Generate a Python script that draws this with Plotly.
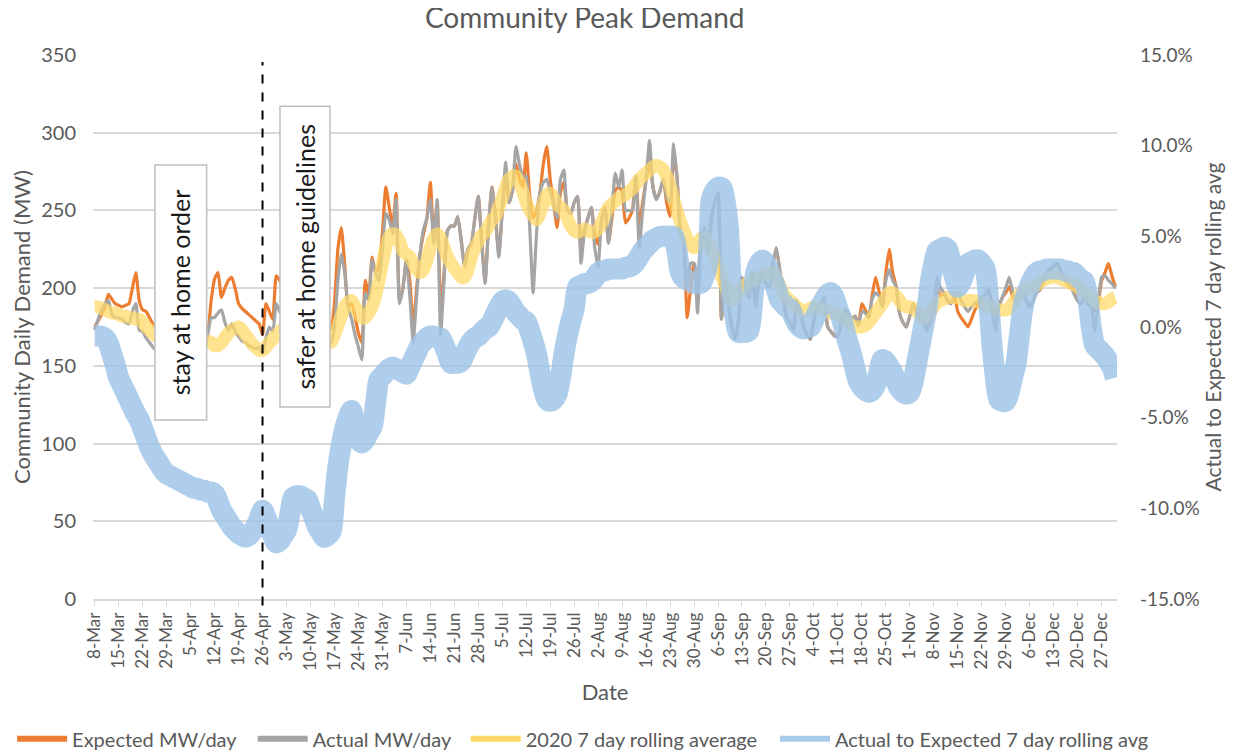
import pandas as pd
import plotly.graph_objects as go
from plotly.subplots import make_subplots

# one value per day, 8-Mar-2020 .. 31-Dec-2020
dates = pd.date_range("2020-03-08", "2020-12-31", freq="D")

expected_mw = [
    175, 179, 183, 188, 196, 193, 190,
    189, 188, 189, 190, 200, 210, 192,
    186, 185, 181, 177, 174, 172, 170,
    168, 170, 172, 170, 168, 172, 174,
    172, 170, 174, 176, 172, 173, 192,
    206, 210, 194, 200, 205, 207, 200,
    190, 187, 185, 183, 181, 179, 177,
    170, 190, 185, 180, 208, 205, 200,
    195, 190, 188, 192, 190, 186, 184,
    182, 180, 178, 182, 180, 176, 174,
    190, 225, 239, 215, 188, 190, 182,
    171, 165, 205, 195, 220, 210, 214,
    235, 265, 252, 240, 261, 192, 200,
    218, 205, 175, 200, 222, 235, 245,
    268, 230, 255, 186, 210, 237, 240,
    240, 246, 231, 214, 225, 229, 245,
    259, 230, 205, 240, 265, 246, 222,
    250, 275, 255, 263, 280, 270, 265,
    287, 260, 245, 250, 261, 280, 291,
    270, 255, 239, 262, 268, 250, 248,
    255, 259, 222, 237, 245, 252, 235,
    228, 244, 252, 229, 245, 263, 265,
    262, 242, 245, 250, 272, 240, 255,
    270, 283, 265, 257, 262, 270, 255,
    246, 285, 272, 237, 229, 181, 200,
    216, 205, 230, 239, 222, 244, 255,
    261, 180, 205, 190, 175, 167, 180,
    207, 200, 194, 210, 188, 205, 210,
    203, 201, 215, 226, 212, 195, 181,
    178, 173, 192, 185, 175, 170, 167,
    180, 188, 190, 194, 175, 172, 170,
    169, 178, 186, 184, 180, 182, 176,
    190, 186, 181, 195, 207, 198, 188,
    210, 225, 210, 201, 184, 178, 175,
    182, 190, 184, 180, 178, 173, 178,
    184, 200, 195, 197, 192, 190, 195,
    185, 181, 178, 175, 180, 186, 190,
    194, 196, 199, 190, 182, 188, 194,
    197, 201, 195, 190, 194, 197, 192,
    188, 192, 197, 199, 204, 210, 212,
    214, 216, 210, 207, 203, 201, 198,
    192, 190, 194, 190, 188, 185, 190,
    205, 210, 216, 208, 201,
]

actual_mw = [
    173, 180, 186, 190, 192, 183, 181,
    181, 180, 178, 177, 185, 190, 173,
    172, 168, 165, 162, 160, 162, 160,
    158, 160, 162, 160, 158, 162, 163,
    160, 162, 163, 161, 160, 170, 181,
    181, 184, 186, 178, 173, 177, 172,
    169, 166, 165, 163, 162, 161, 162,
    158, 168, 175, 172, 190, 185, 182,
    178, 175, 172, 176, 174, 170, 168,
    170, 168, 165, 170, 168, 163, 165,
    175, 205, 222, 210, 188, 180, 170,
    162, 154, 197, 192, 218, 210, 205,
    225, 248, 244, 235, 257, 190, 200,
    218, 195, 165, 195, 222, 238, 245,
    257, 229, 257, 170, 205, 237, 240,
    240, 246, 231, 214, 225, 229, 245,
    259, 228, 203, 240, 265, 246, 220,
    250, 281, 255, 263, 291, 280, 272,
    272, 240, 197, 235, 261, 268, 270,
    262, 255, 245, 270, 276, 250, 248,
    255, 259, 216, 237, 245, 252, 226,
    214, 244, 252, 229, 250, 274, 265,
    276, 250, 250, 250, 272, 226, 250,
    270, 295, 265, 257, 262, 270, 258,
    255, 293, 272, 237, 229, 201, 216,
    216, 184, 225, 239, 222, 244, 255,
    261, 180, 205, 190, 175, 167, 180,
    207, 200, 194, 210, 188, 205, 210,
    203, 201, 215, 226, 212, 195, 181,
    178, 173, 192, 185, 175, 170, 167,
    180, 188, 190, 194, 175, 172, 169,
    169, 178, 186, 184, 180, 182, 176,
    185, 184, 181, 193, 197, 195, 188,
    205, 212, 205, 201, 184, 178, 175,
    182, 190, 184, 180, 178, 173, 180,
    190, 207, 200, 197, 192, 190, 195,
    197, 192, 188, 185, 188, 190, 192,
    194, 196, 199, 185, 173, 188, 194,
    200, 207, 198, 190, 194, 197, 192,
    188, 192, 197, 199, 205, 210, 213,
    214, 216, 212, 207, 203, 201, 196,
    192, 190, 194, 190, 188, 173, 190,
    207, 208, 205, 203, 200,
]

rolling_2020 = [
    188, 188, 187, 186, 185, 184, 184,
    183, 182, 182, 181, 181, 180, 180,
    178, 175, 173, 171, 169, 168, 167,
    166, 165, 165, 164, 164, 164, 164,
    164, 164, 164, 165, 165, 166, 165,
    163, 163, 165, 168, 171, 173, 174,
    175, 173, 170, 167, 164, 162, 160,
    160, 162, 165, 167, 170, 172, 174,
    175, 176, 176, 175, 174, 173, 172,
    171, 170, 169, 168, 167, 166, 165,
    170, 176, 182, 188, 191, 192, 188,
    184, 181, 181, 184, 188, 195, 205,
    216, 226, 233, 235, 234, 230, 224,
    222, 220, 216, 212, 210, 212, 218,
    226, 232, 235, 232, 226, 220, 216,
    213, 210, 207, 207, 212, 220, 226,
    230, 234, 236, 240, 244, 246, 252,
    258, 265, 270, 272, 272, 268, 262,
    255, 250, 247, 244, 248, 254, 260,
    261, 258, 254, 252, 250, 245, 240,
    237, 236, 237, 238, 237, 236, 236,
    238, 242, 247, 252, 254, 256, 258,
    259, 260, 262, 264, 267, 270, 272,
    274, 276, 278, 279, 278, 276, 272,
    266, 258, 250, 243, 237, 232, 228,
    226, 228, 232, 233, 230, 226, 220,
    214, 208, 202, 196, 192, 194, 198,
    200, 202, 204, 205, 206, 207, 208,
    209, 210, 210, 207, 202, 197, 194,
    192, 190, 188, 186, 185, 186, 187,
    188, 188, 187, 186, 185, 184, 184,
    183, 182, 180, 178, 176, 175, 175,
    175, 176, 178, 181, 184, 187, 190,
    194, 197, 197, 195, 192, 189, 188,
    188, 187, 185, 183, 181, 182, 185,
    188, 191, 192, 193, 194, 194, 194,
    194, 193, 192, 192, 192, 192, 191,
    190, 189, 188, 188, 187, 186, 186,
    186, 187, 190, 193, 196, 198, 200,
    200, 201, 202, 204, 205, 206, 207,
    207, 207, 206, 205, 204, 203, 202,
    201, 199, 197, 195, 194, 192, 191,
    190, 190, 191, 193, 194,
]

# actual vs expected, 7 day rolling, in percent
actual_vs_expected_pct = [
    -0.5, -0.5, -0.5, -0.6, -0.9, -1.5, -2.1,
    -2.8, -3.2, -3.6, -4.0, -4.4, -4.8, -5.1,
    -5.6, -6.1, -6.6, -7.0, -7.3, -7.6, -7.9,
    -8.1, -8.2, -8.3, -8.4, -8.5, -8.6, -8.7,
    -8.8, -8.9, -8.9, -9.0, -9.0, -9.1, -9.1,
    -9.2, -9.6, -10.1, -10.4, -10.7, -11.0, -11.2,
    -11.4, -11.5, -11.6, -11.5, -11.3, -11.0, -10.6,
    -10.1, -10.5, -11.0, -11.5, -11.9, -11.8, -11.5,
    -11.2, -10.3, -9.4, -9.3, -9.3, -9.4, -9.5,
    -10.0, -10.5, -11.0, -11.3, -11.6, -11.5, -11.3,
    -9.5, -7.7, -6.5, -5.6, -5.0, -4.6, -5.5,
    -6.2, -6.4, -6.2, -5.8, -5.5, -4.2, -2.9,
    -2.7, -2.5, -2.3, -2.2, -2.3, -2.4, -2.5,
    -2.6, -2.2, -1.8, -1.4, -1.0, -0.8, -0.6,
    -0.5, -0.5, -0.6, -0.6, -1.0, -1.5, -2.0,
    -2.0, -2.0, -1.9, -1.5, -1.1, -0.8, -0.6,
    -0.5, -0.3, -0.1, 0.0, 0.3, 0.7, 1.1,
    1.4, 1.5, 1.4, 1.1, 0.8, 0.6, 0.4,
    0.3, -0.2, -0.8, -1.5, -2.5, -3.4, -4.0,
    -4.1, -4.0, -3.7, -2.8, -1.5, -0.5, 0.3,
    1.0, 2.2, 2.3, 2.4, 2.4, 2.5, 2.7,
    3.0, 3.1, 3.1, 3.2, 3.2, 3.2, 3.2,
    3.2, 3.3, 3.3, 3.4, 3.6, 3.9, 4.2,
    4.4, 4.6, 4.8, 4.9, 5.0, 5.0, 5.0,
    5.0, 5.0, 4.2, 3.0, 2.7, 2.6, 2.5,
    2.4, 2.4, 2.4, 2.8, 3.5, 7.0, 7.5,
    7.7, 7.7, 7.0, 5.5, 2.0, 0.5, -0.3,
    -0.3, -0.3, -0.2, 1.2, 3.0, 3.5, 3.7,
    3.5, 3.0, 2.6, 2.1, 1.5, 1.3, 1.1,
    1.0, 0.6, 0.2, 0.0, -0.1, 0.0, 0.0,
    0.4, 0.8, 1.2, 1.5, 1.8, 1.9, 1.6,
    1.0, 0.5, -0.2, -0.9, -1.5, -2.3, -3.0,
    -3.3, -3.5, -3.6, -3.5, -3.2, -2.5, -1.8,
    -1.9, -2.2, -2.5, -3.0, -3.4, -3.6, -3.7,
    -3.6, -3.0, -2.0, -1.0, 0.0, 1.0, 2.5,
    3.5, 4.2, 4.3, 4.4, 4.3, 3.6, 2.8,
    2.2, 2.5, 3.0, 3.5, 3.6, 3.7, 3.7,
    3.5, 3.2, 1.5, -1.0, -2.8, -4.0, -4.1,
    -4.1, -3.6, -2.8, -2.0, -0.5, 1.0, 1.8,
    2.3, 2.7, 3.0, 3.1, 3.1, 3.2, 3.2,
    3.2, 3.2, 3.2, 3.1, 3.1, 3.0, 3.0,
    2.8, 2.6, 2.5, 1.5, 0.0, -1.0, -1.2,
    -1.4, -1.6, -1.9, -2.2, -2.8,
]

pct_ticks = [-15, -10, -5, 0, 5, 10, 15]

FONT = "Lato, Carlito, Calibri, sans-serif"
GREY_TXT = "#595959"
GRID = "#D9D9D9"

ORANGE = "#ED7D31"
GREY = "#A5A5A5"
YELLOW = "rgba(255,217,102,0.74)"
BLUE = "rgba(157,195,230,0.82)"

fig = make_subplots(specs=[[{"secondary_y": True}]])

fig.add_trace(go.Scatter(x=dates, y=expected_mw, mode="lines", showlegend=False,
                         line=dict(color=ORANGE, width=3.2, shape="spline", smoothing=0.5)))
fig.add_trace(go.Scatter(x=dates, y=actual_mw, mode="lines", showlegend=False,
                         line=dict(color=GREY, width=3.2, shape="spline", smoothing=0.5)))
fig.add_trace(go.Scatter(x=dates, y=rolling_2020, mode="lines", showlegend=False,
                         line=dict(color=YELLOW, width=13, shape="spline", smoothing=0.8)))
fig.add_trace(go.Scatter(x=dates, y=[v / 100 for v in actual_vs_expected_pct], mode="lines",
                         showlegend=False,
                         line=dict(color=BLUE, width=21, shape="spline", smoothing=0.8)),
              secondary_y=True)

# legend entries, one legend box each so they can be spaced like the original
legend_items = [
    ("Expected MW/day", ORANGE, "legend", -0.079),
    ("Actual MW/day", GREY, "legend2", 0.156),
    ("2020 7 day rolling average", "#FFD966", "legend3", 0.364),
    ("Actual to Expected 7 day rolling avg", "#A9CBEA", "legend4", 0.666),
]
legend_layout = {}
for name, col, lg, lx in legend_items:
    fig.add_trace(go.Scatter(x=[None], y=[None], mode="lines", name=name, legend=lg,
                             line=dict(color=col, width=6)))
    legend_layout[lg] = dict(orientation="h", x=lx, y=-0.257, xanchor="left", yanchor="middle",
                             itemwidth=50, bgcolor="rgba(0,0,0,0)",
                             font=dict(family=FONT, size=20, color=GREY_TXT))

# stay-at-home markers
fig.add_shape(type="line", xref="x", yref="paper", x0="2020-04-26", x1="2020-04-26",
              y0=-0.012, y1=0.987, line=dict(color="black", width=2, dash="dash"))
boxes = [
    (0.0605, 0.111, 0.329, 0.798, "stay at home order"),
    (0.1826, 0.2314, 0.353, 0.906, "safer at home guidelines"),
]
for x0, x1, y0, y1, txt in boxes:
    fig.add_shape(type="rect", xref="paper", yref="paper", x0=x0, x1=x1, y0=y0, y1=y1,
                  layer="above", fillcolor="white", line=dict(color="#BFBFBF", width=1.5))
    fig.add_annotation(xref="paper", yref="paper", x=(x0 + x1) / 2, y=(y0 + y1) / 2,
                       xanchor="center", yanchor="middle",
                       text=txt, textangle=-90, showarrow=False,
                       font=dict(family=FONT, size=25, color="#1a1a1a"))

fig.update_xaxes(
    domain=[0, 1],
    range=["2020-03-07 12:00", "2020-12-31 12:00"], automargin=False,
    tick0="2020-03-08", dtick=7 * 86400000, tickformat="%-d-%b", tickangle=-90,
    showgrid=False, showline=True, linecolor=GRID, linewidth=1.5,
    ticks="outside", ticklen=5, tickcolor=GRID,
    tickfont=dict(family=FONT, size=17, color=GREY_TXT),
    title=dict(text="Date", font=dict(family=FONT, size=22, color=GREY_TXT), standoff=14),
)
fig.update_yaxes(
    range=[0, 350], dtick=50, showgrid=True, gridcolor=GRID, gridwidth=1.5, automargin=False,
    zeroline=False, showline=False, ticklabelstandoff=16,
    tickfont=dict(family=FONT, size=20, color=GREY_TXT),
    title=dict(text="Community Daily Demand (MW)", font=dict(family=FONT, size=22, color=GREY_TXT),
               standoff=8),
    secondary_y=False,
)
fig.update_yaxes(
    range=[-0.15, 0.15], tickvals=[t / 100 for t in pct_ticks],
    ticktext=["%.1f%%" % t for t in pct_ticks], automargin=False,
    showgrid=False, zeroline=False, showline=False, ticklabelstandoff=22,
    tickfont=dict(family=FONT, size=19, color=GREY_TXT),
    title=dict(text="Actual to Expected 7 day rolling avg",
               font=dict(family=FONT, size=21, color=GREY_TXT), standoff=7),
    secondary_y=True,
)

# the page adds an 8px body margin, so the figure is 8px smaller and shifted accordingly
fig.update_layout(
    width=1227, height=743,
    margin=dict(l=85, r=118, t=47, b=152, autoexpand=False),
    paper_bgcolor="white", plot_bgcolor="white",
    font=dict(family=FONT, color=GREY_TXT),
    title=dict(text="Community Peak Demand", x=0.470, y=0.999, xanchor="center", yanchor="top",
               pad=dict(t=0, b=0), font=dict(family=FONT, size=28, color=GREY_TXT)),
    **legend_layout,
)

fig.write_html("out.html")
